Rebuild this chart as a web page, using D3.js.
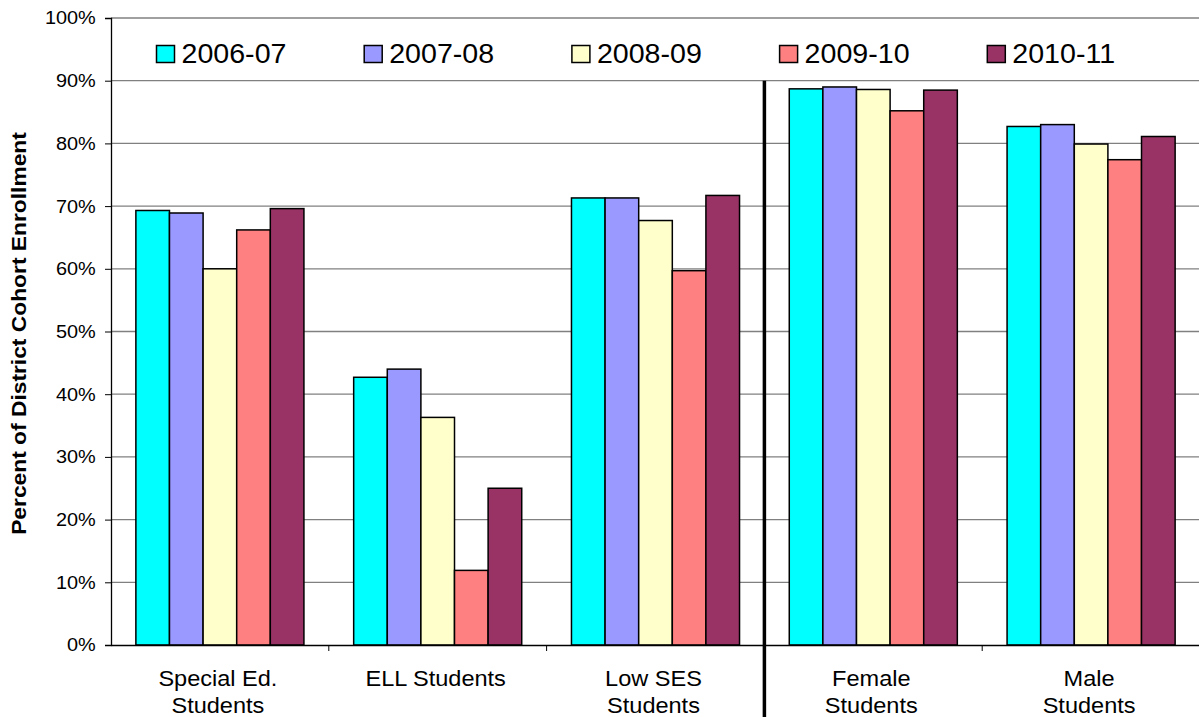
<!DOCTYPE html>
<html><head><meta charset="utf-8">
<script src="https://cdn.jsdelivr.net/npm/d3@7"></script>
<style>body{margin:0;background:#fff}svg{display:block}text{font-family:"Liberation Sans",Arial,sans-serif;fill:#000}</style>
</head><body><svg id="c" width="1199" height="717"></svg>
<script>
const categories = [["Special Ed.","Students"],["ELL Students"],["Low SES","Students"],["Female","Students"],["Male","Students"]];
const seriesNames = ["2006-07","2007-08","2008-09","2009-10","2010-11"];
const colors = ["#00FFFF","#9999FF","#FFFFCC","#FF8080","#993366"];
const s2006 = [0.693,0.427,0.713,0.887,0.827];
const s2007 = [0.689,0.440,0.713,0.890,0.830];
const s2008 = [0.600,0.363,0.677,0.886,0.799];
const s2009 = [0.662,0.119,0.597,0.852,0.774];
const s2010 = [0.696,0.250,0.717,0.885,0.811];
const yTicks = [0,0.1,0.2,0.3,0.4,0.5,0.6,0.7,0.8,0.9,1.0];

const values = [s2006,s2007,s2008,s2009,s2010];
const svg = d3.select("#c");
const L=111,R=1200,T=18,B=645;
const catKeys = categories.map(c=>c.join(" "));
const x0 = d3.scaleBand().domain(catKeys).range([L,R]).paddingInner(0).paddingOuter(0);
const x1 = d3.scaleBand().domain(seriesNames).range([0,x0.bandwidth()]).paddingInner(0).paddingOuter(0.74);
const y = d3.scaleLinear().domain([0,1]).range([B,T]);

// gridlines
svg.append("g").selectAll("line").data(yTicks.filter(d=>d>0)).join("line")
  .attr("x1",L).attr("x2",R).attr("y1",d=>y(d)).attr("y2",d=>y(d))
  .attr("stroke","#808080").attr("stroke-width",1.3);

// y axis
const ya = svg.append("g").attr("transform",`translate(${L},0)`)
  .call(d3.axisLeft(y).tickValues(yTicks).tickFormat(d3.format(".0%")).tickSize(6).tickPadding(10));
ya.select(".domain").attr("stroke","#000").attr("stroke-width",1.3);
ya.selectAll(".tick line").attr("stroke","#000");
ya.selectAll(".tick text").attr("font-size",18.5).attr("fill","#000")
  .attr("x",0).attr("transform","translate(-15.3,0) scale(1.075,1)");

// bars
const gCat = svg.append("g").selectAll("g").data(catKeys).join("g")
  .attr("transform",d=>`translate(${x0(d)},0)`);
gCat.selectAll("rect").data((d,i)=>seriesNames.map((s,j)=>({s,j,v:values[j][i]}))).join("rect")
  .attr("x",d=>x1(d.s)).attr("width",x1.bandwidth())
  .attr("y",d=>y(d.v)).attr("height",d=>B-y(d.v))
  .attr("fill",d=>colors[d.j]).attr("stroke","#000").attr("stroke-width",1.5);

// x axis
const xa = svg.append("g").attr("transform",`translate(0,${B})`)
  .call(d3.axisBottom(x0).tickSize(0).tickFormat(""));
xa.select(".domain").attr("stroke","#000").attr("stroke-width",1.3);
// category boundary ticks
svg.append("g").selectAll("line").data(catKeys.slice(1)).join("line")
  .attr("x1",d=>x0(d)).attr("x2",d=>x0(d)).attr("y1",B).attr("y2",B+6)
  .attr("stroke","#000").attr("stroke-width",1);
// category labels
const lab = svg.append("g").selectAll("text").data(categories).join("text")
  .attr("text-anchor","middle").attr("font-size",22)
  .attr("transform",(d,i)=>`translate(${x0(catKeys[i])+x0.bandwidth()/2-2},686) scale(1.07,1)`);
lab.selectAll("tspan").data(d=>d).join("tspan").attr("x",0).attr("dy",(d,i)=>i?27:0).text(d=>d);

// thick divider
const divX = x0(catKeys[3]);
svg.append("line").attr("x1",divX).attr("x2",divX).attr("y1",y(0.9)).attr("y2",717)
  .attr("stroke","#000").attr("stroke-width",3.5);

// y title
svg.append("text").attr("transform",`translate(26,333.5) rotate(-90) scale(1.086,1)`)
  .attr("text-anchor","middle").attr("font-size",21).attr("font-weight","bold")
  .text("Percent of District Cohort Enrollment");

// legend
const lg = svg.append("g").selectAll("g").data(seriesNames).join("g")
  .attr("transform",(d,i)=>`translate(${156.5+i*207.7},45.5)`);
lg.append("rect").attr("width",18).attr("height",17).attr("fill",(d,i)=>colors[i]).attr("stroke","#000").attr("stroke-width",1.5);
lg.append("text").attr("font-size",27.5).text(d=>d)
  .attr("transform","translate(25,17.8) scale(1.04,1)");
</script></body></html>
